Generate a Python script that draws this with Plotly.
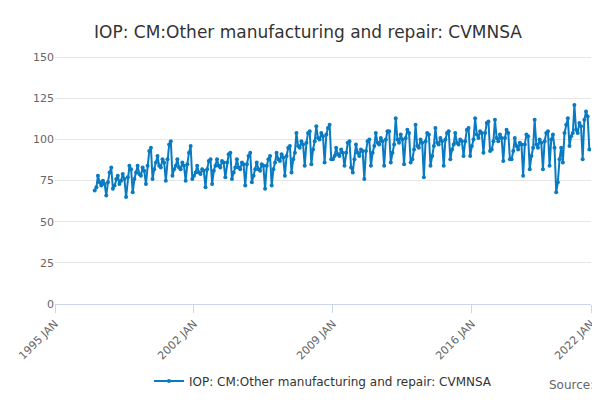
import plotly.graph_objects as go
import pandas as pd

# monthly values, Jan 1997 .. Dec 2021
v1997 = [69, 71, 78, 74, 72, 75, 73, 66, 74, 80, 83, 70]
v1998 = [72, 76, 78, 73, 75, 79, 76, 65, 77, 84, 82, 68]
v1999 = [76, 80, 84, 79, 78, 83, 81, 73, 84, 93, 95, 76]
v2000 = [82, 86, 90, 84, 83, 88, 86, 75, 88, 97, 99, 78]
v2001 = [82, 84, 88, 83, 82, 86, 84, 75, 85, 92, 96, 76]
v2002 = [78, 80, 84, 80, 79, 82, 81, 71, 82, 87, 88, 73]
v2003 = [81, 84, 88, 84, 83, 87, 86, 77, 86, 91, 92, 76]
v2004 = [80, 83, 88, 83, 82, 86, 85, 72, 85, 90, 92, 74]
v2005 = [78, 82, 86, 82, 81, 85, 84, 70, 84, 88, 90, 72]
v2006 = [82, 86, 92, 88, 87, 91, 89, 78, 90, 95, 96, 80]
v2007 = [88, 92, 104, 96, 95, 99, 97, 84, 98, 104, 105, 85]
v2008 = [94, 99, 108, 101, 100, 104, 102, 86, 103, 107, 109, 88]
v2009 = [88, 90, 95, 91, 90, 94, 92, 84, 92, 98, 99, 83]
v2010 = [80, 88, 97, 92, 90, 94, 93, 76, 93, 99, 100, 84]
v2011 = [92, 96, 104, 98, 97, 101, 99, 84, 100, 105, 105, 86]
v2012 = [92, 97, 113, 100, 98, 103, 100, 85, 101, 106, 104, 86]
v2013 = [88, 94, 109, 96, 95, 100, 98, 77, 99, 104, 103, 84]
v2014 = [90, 96, 107, 98, 97, 101, 99, 84, 100, 104, 105, 88]
v2015 = [94, 97, 104, 98, 97, 100, 99, 90, 99, 106, 107, 90]
v2016 = [96, 100, 113, 103, 101, 105, 104, 92, 104, 110, 111, 93]
v2017 = [94, 99, 112, 101, 99, 103, 101, 87, 101, 106, 104, 88]
v2018 = [88, 93, 101, 96, 94, 98, 97, 78, 97, 103, 102, 82]
v2019 = [90, 95, 112, 97, 95, 100, 98, 82, 99, 104, 105, 84]
v2020 = [100, 103, 95, 68, 74, 88, 95, 86, 104, 109, 113, 96]
v2021 = [102, 104, 121, 106, 104, 110, 108, 88, 112, 117, 114, 94]

values = (v1997 + v1998 + v1999 + v2000 + v2001 + v2002 + v2003 + v2004 + v2005
          + v2006 + v2007 + v2008 + v2009 + v2010 + v2011 + v2012 + v2013 + v2014
          + v2015 + v2016 + v2017 + v2018 + v2019 + v2020 + v2021)
dates = pd.date_range("1997-01-01", periods=len(values), freq="MS")

tick_dates = ["1995-01-01", "2002-01-01", "2009-01-01", "2016-01-01", "2022-01-01"]
tick_text = ["1995 JAN", "2002 JAN", "2009 JAN", "2016 JAN", "2022 JAN"]

blue = "#0a7bc1"
fig = go.Figure(go.Scatter(
    x=dates, y=values, mode="lines+markers",
    name="IOP: CM:Other manufacturing and repair: CVMNSA",
    line=dict(color=blue, width=2), marker=dict(color=blue, size=4)))

fig.update_layout(
    width=600, height=400, plot_bgcolor="white", paper_bgcolor="white",
    font=dict(family="DejaVu Sans", color="#444", size=11),
    title=dict(text="IOP: CM:Other manufacturing and repair: CVMNSA", x=0.5,
               y=0.955, font=dict(size=17, color="#333")),
    margin=dict(l=47, r=17, t=46, b=104),
    showlegend=True,
    legend=dict(orientation="h", x=0.5, xanchor="center", y=-0.25, yanchor="top",
                font=dict(size=12, color="#333")),
    xaxis=dict(range=["1995-01-01", "2022-01-01"], tickvals=tick_dates,
               ticktext=tick_text, tickangle=-45, showgrid=False, automargin=False,
               ticks="outside", tickcolor="#ccd6eb", ticklen=8,
               showline=True, linecolor="#ccd6eb", tickfont=dict(color="#666")),
    yaxis=dict(range=[0, 152], tickvals=[0, 25, 50, 75, 100, 125, 150], automargin=False,
               gridcolor="#e6e6e6", zeroline=False, tickfont=dict(color="#666")),
)
fig.add_annotation(text="Source:", xref="paper", yref="paper", x=1.01, y=-0.36,
                   xanchor="right", showarrow=False, font=dict(size=12, color="#666"))

fig.write_html("out.html")
